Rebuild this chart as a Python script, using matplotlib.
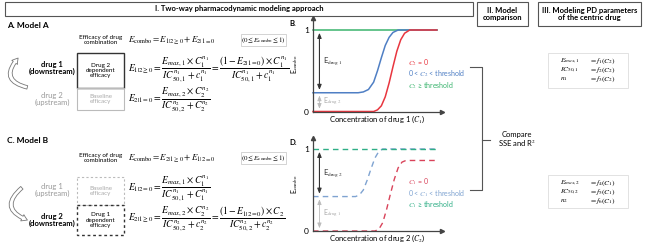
import matplotlib.pyplot as plt
from matplotlib.patches import Rectangle, FancyArrowPatch

plt.rcParams['font.family'] = ['Lato', 'DejaVu Sans']
plt.rcParams['mathtext.fontset'] = 'stix'

# Panel B: E_combo vs concentration of drug 1 (arbitrary units)
b_green_x = [0, 9.6]
b_green_y = [1.0, 1.0]
b_blue_x = [0, 3.5, 3.9, 4.3, 4.7, 5.0, 5.3, 5.6, 5.9, 6.2, 6.6, 9.6]
b_blue_y = [0.23, 0.23, 0.24, 0.27, 0.36, 0.50, 0.66, 0.81, 0.91, 0.97, 1.0, 1.0]
b_red_x = [0, 4.7, 5.0, 5.3, 5.6, 5.9, 6.2, 6.5, 6.8, 7.1, 7.5, 9.6]
b_red_y = [0.0, 0.0, 0.02, 0.07, 0.18, 0.35, 0.55, 0.74, 0.88, 0.96, 1.0, 1.0]

# Panel D: E_combo vs concentration of drug 2
d_green_x = [0, 9.6]
d_green_y = [1.0, 1.0]
d_blue_x = [0, 3.3, 3.6, 3.9, 4.2, 4.5, 4.8, 5.1, 5.4, 9.6]
d_blue_y = [0.42, 0.42, 0.44, 0.50, 0.62, 0.76, 0.89, 0.97, 1.0, 1.0]
d_red_x = [0, 4.8, 5.1, 5.4, 5.7, 6.0, 6.3, 6.6, 6.9, 7.2, 9.6]
d_red_y = [0.0, 0.0, 0.02, 0.10, 0.26, 0.45, 0.63, 0.77, 0.84, 0.86, 0.86]

legend_b = ['$C_2$ = 0', '0 < $C_2$ < threshold', '$C_2$ ≥ threshold']
legend_d = ['$C_1$ = 0', '0 < $C_1$ < threshold', '$C_1$ ≥ threshold']

red, blue, green = '#e8363f', '#4f7fc4', '#3ab46e'
red_d, blue_d, green_d = '#d9435a', '#7fa3d1', '#2fae86'
dark, light = '#333333', '#aaaaaa'

fig = plt.figure(figsize=(6.45, 2.45), dpi=100)
bg = fig.add_axes([0, 0, 1, 1])
bg.set_xlim(0, 645)
bg.set_ylim(245, 0)
bg.axis('off')


def box(x0, y0, x1, y1, ec, ls='-', lw=0.8):
    bg.add_patch(Rectangle((x0, y0), x1 - x0, y1 - y0, fill=False, ec=ec, ls=ls, lw=lw))


def txt(x, y, s, size=5.5, ha='center', **kw):
    bg.text(x, y, s, fontsize=size, ha=ha, va='center', **kw)


# header boxes
box(5, 2, 473, 16, '#555555')
txt(239, 9, 'I. Two-way pharmacodynamic modeling approach', weight='bold')
box(477, 2, 528, 26, '#555555')
txt(502.5, 14, 'II. Model\ncomparison', weight='bold', linespacing=1.1)
box(538, 2, 641, 26, '#555555')
txt(589.5, 14, 'III. Modeling PD parameters\nof the centric drug', weight='bold', linespacing=1.1)

# ---------------- Model A ----------------
txt(7, 25, 'A. Model A', size=6, ha='left', weight='bold')
txt(101, 40, 'Efficacy of drug\ncombination', size=4.5, linespacing=1.1)
txt(128, 40, r'$E_{\mathrm{combo}}=E_{1|2\geq0}+E_{2|1=0}$', size=6.5, ha='left')
box(241, 34, 286, 46, '#cccccc', lw=0.6)
txt(263.5, 40, r'$(0\leq E_{\mathrm{combo}}\leq1)$', size=5)
box(77, 53, 124, 88, dark, lw=1.0)
txt(100.5, 70.5, 'Drug 2\ndependent\nefficacy', size=4.5, linespacing=1.1)
box(77, 88, 124, 110, '#bbbbbb')
txt(100.5, 99, 'Baseline\nefficacy', size=4.5, color=light, linespacing=1.1)
txt(52, 68, 'drug 1\n(downstream)', weight='bold', linespacing=1.1)
txt(52, 99, 'drug 2\n(upstream)', color='#999999', linespacing=1.1)
txt(128, 70, r'$E_{1|2\geq0}=\dfrac{E_{max,1}\times C_1^{n_1}}{IC_{50,1}^{n_1}+c_1^{n_1}}'
             r'=\dfrac{(1-E_{2|1=0})\times C_1^{n_1}}{IC_{50,1}^{n_1}+c_1^{n_1}}$', size=6.9, ha='left')
txt(128, 100, r'$E_{2|1=0}=\dfrac{E_{max,2}\times C_2^{n_2}}{IC_{50,2}^{n_2}+C_2^{n_2}}$', size=6.9, ha='left')
bg.add_patch(FancyArrowPatch((30, 88), (20, 56), connectionstyle='arc3,rad=-0.9',
                             arrowstyle='simple,head_width=5,head_length=4,tail_width=2.5',
                             fc='white', ec='#777777', lw=0.6))

# ---------------- Model B ----------------
txt(7, 140, 'C. Model B', size=6, ha='left', weight='bold')
txt(101, 158, 'Efficacy of drug\ncombination', size=4.5, linespacing=1.1)
txt(128, 158, r'$E_{\mathrm{combo}}=E_{2|1\geq0}+E_{1|2=0}$', size=6.5, ha='left')
box(241, 152, 286, 164, '#cccccc', lw=0.6)
txt(263.5, 158, r'$(0\leq E_{\mathrm{combo}}\leq1)$', size=5)
box(77, 177, 124, 205, '#bbbbbb', ls=(0, (2, 2)))
txt(100.5, 191, 'Baseline\nefficacy', size=4.5, color=light, linespacing=1.1)
box(77, 205, 124, 235, dark, ls=(0, (2, 2)), lw=1.0)
txt(100.5, 220, 'Drug 1\ndependent\nefficacy', size=4.5, linespacing=1.1)
txt(52, 190, 'drug 1\n(upstream)', color='#999999', linespacing=1.1)
txt(52, 220, 'drug 2\n(downstream)', weight='bold', linespacing=1.1)
txt(128, 189, r'$E_{1|2=0}=\dfrac{E_{max,1}\times C_1^{n_1}}{IC_{50,1}^{n_1}+C_1^{n_1}}$', size=6.9, ha='left')
txt(128, 219, r'$E_{2|1\geq0}=\dfrac{E_{max,2}\times C_2^{n_2}}{IC_{50,2}^{n_2}+c_2^{n_2}}'
              r'=\dfrac{(1-E_{1|2=0})\times C_2}{IC_{50,2}^{n_2}+c_2^{n_2}}$', size=6.9, ha='left')
bg.add_patch(FancyArrowPatch((24, 186), (30, 221), connectionstyle='arc3,rad=0.9',
                             arrowstyle='simple,head_width=5,head_length=4,tail_width=2.5',
                             fc='white', ec='#777777', lw=0.6))

# ---------------- plots B and D ----------------
txt(293, 23, 'B.', size=5.5, weight='bold')
txt(293, 142, 'D.', size=5.5, weight='bold')


def plot_panel(rect, top, curves, dashed, low, labels, label_colors, drug):
    ax = fig.add_axes(rect)
    ax.patch.set_alpha(0)
    for x, y, c in curves:
        if dashed:
            ax.plot(x, y, color=c, lw=1.0, dashes=(4, 3), clip_on=False)
        else:
            ax.plot(x, y, color=c, lw=1.1, clip_on=False)
    ax.set_xlim(0, 10)
    ax.set_ylim(0, top)
    for s in ['top', 'right']:
        ax.spines[s].set_visible(False)
    for s in ['left', 'bottom']:
        ax.spines[s].set_color('#444444')
        ax.spines[s].set_linewidth(0.9)
    ax.plot(1, 0, '>', color='#444444', ms=3, transform=ax.transAxes, clip_on=False)
    ax.plot(0, 1, '^', color='#444444', ms=3, transform=ax.transAxes, clip_on=False)
    ax.set_xticks([])
    ax.set_yticks([0, 1])
    ax.tick_params(length=0, labelsize=6, pad=3)
    ax.set_ylabel(r'E$_{\rm combo}$', fontsize=5, labelpad=3)
    ax.set_xlabel('Concentration of drug %d ($C_%d$)' % (drug, drug), fontsize=5.5, labelpad=1.5)
    ax.annotate('', xy=(0.5, 1), xytext=(0.5, low),
                arrowprops=dict(arrowstyle='<|-|>,head_width=0.12,head_length=0.3', color=dark, lw=0.8))
    ax.annotate('', xy=(0.5, low), xytext=(0.5, 0),
                arrowprops=dict(arrowstyle='<|-|>,head_width=0.12,head_length=0.3', color='#bbbbbb', lw=0.6))
    other = 2 if drug == 1 else 1
    ax.text(0.8, (1 + low) / 2, r'E$_{\rm drug\ %d}$' % drug, fontsize=5.5, color=dark, va='center')
    ax.text(0.8, low / 2, r'E$_{\rm drug\ %d}$' % other, fontsize=5, color=light, va='center')
    for i, (lab, c) in enumerate(zip(labels, label_colors)):
        ax.text(7.4, 0.6 - i * 0.14, lab, fontsize=5, color=c, va='center')
    return ax


plot_panel([313 / 645, 1 - 111.5 / 245, 129 / 645, 93.5 / 245], 93.5 / 81.5,
           [(b_green_x, b_green_y, green), (b_blue_x, b_blue_y, blue), (b_red_x, b_red_y, red)],
           False, b_blue_y[0], legend_b, [red, blue, green], 1)
plot_panel([313 / 645, 1 - 231 / 245, 129 / 645, 93 / 245], 93 / 82,
           [(d_blue_x, d_blue_y, blue_d), (d_green_x, d_green_y, green_d), (d_red_x, d_red_y, red_d)],
           True, d_blue_y[0], legend_d, [red_d, blue_d, green_d], 2)

# ---------------- comparison bracket ----------------
bg.plot([470, 482, 482, 470], [67, 67, 190, 190], color='#555555', lw=0.8)
bg.plot([482, 490], [140, 140], color='#555555', lw=0.8)
txt(517, 134, 'Compare', size=5.5)
txt(517, 143, 'SSE and R$^2$', size=5.5)

# ---------------- PD parameter boxes ----------------
box(548, 53, 628, 88, '#dddddd', lw=0.6)
for y, l, r in [(61, r'$E_{max,1}$', r'$= f_1(C_2)$'), (70, r'$IC_{50,1}$', r'$= f_2(C_2)$'),
                (79, r'$n_1$', r'$= f_3(C_2)$')]:
    txt(560, y, l, size=5.4, ha='left')
    txt(589, y, r, size=5.4, ha='left')
box(548, 175, 628, 208, '#dddddd', lw=0.6)
for y, l, r in [(183, r'$E_{max,2}$', r'$= f_4(C_1)$'), (192, r'$IC_{50,2}$', r'$= f_5(C_1)$'),
                (201, r'$n_2$', r'$= f_6(C_1)$')]:
    txt(560, y, l, size=5.4, ha='left')
    txt(589, y, r, size=5.4, ha='left')

fig.savefig('out.png', dpi=100)
